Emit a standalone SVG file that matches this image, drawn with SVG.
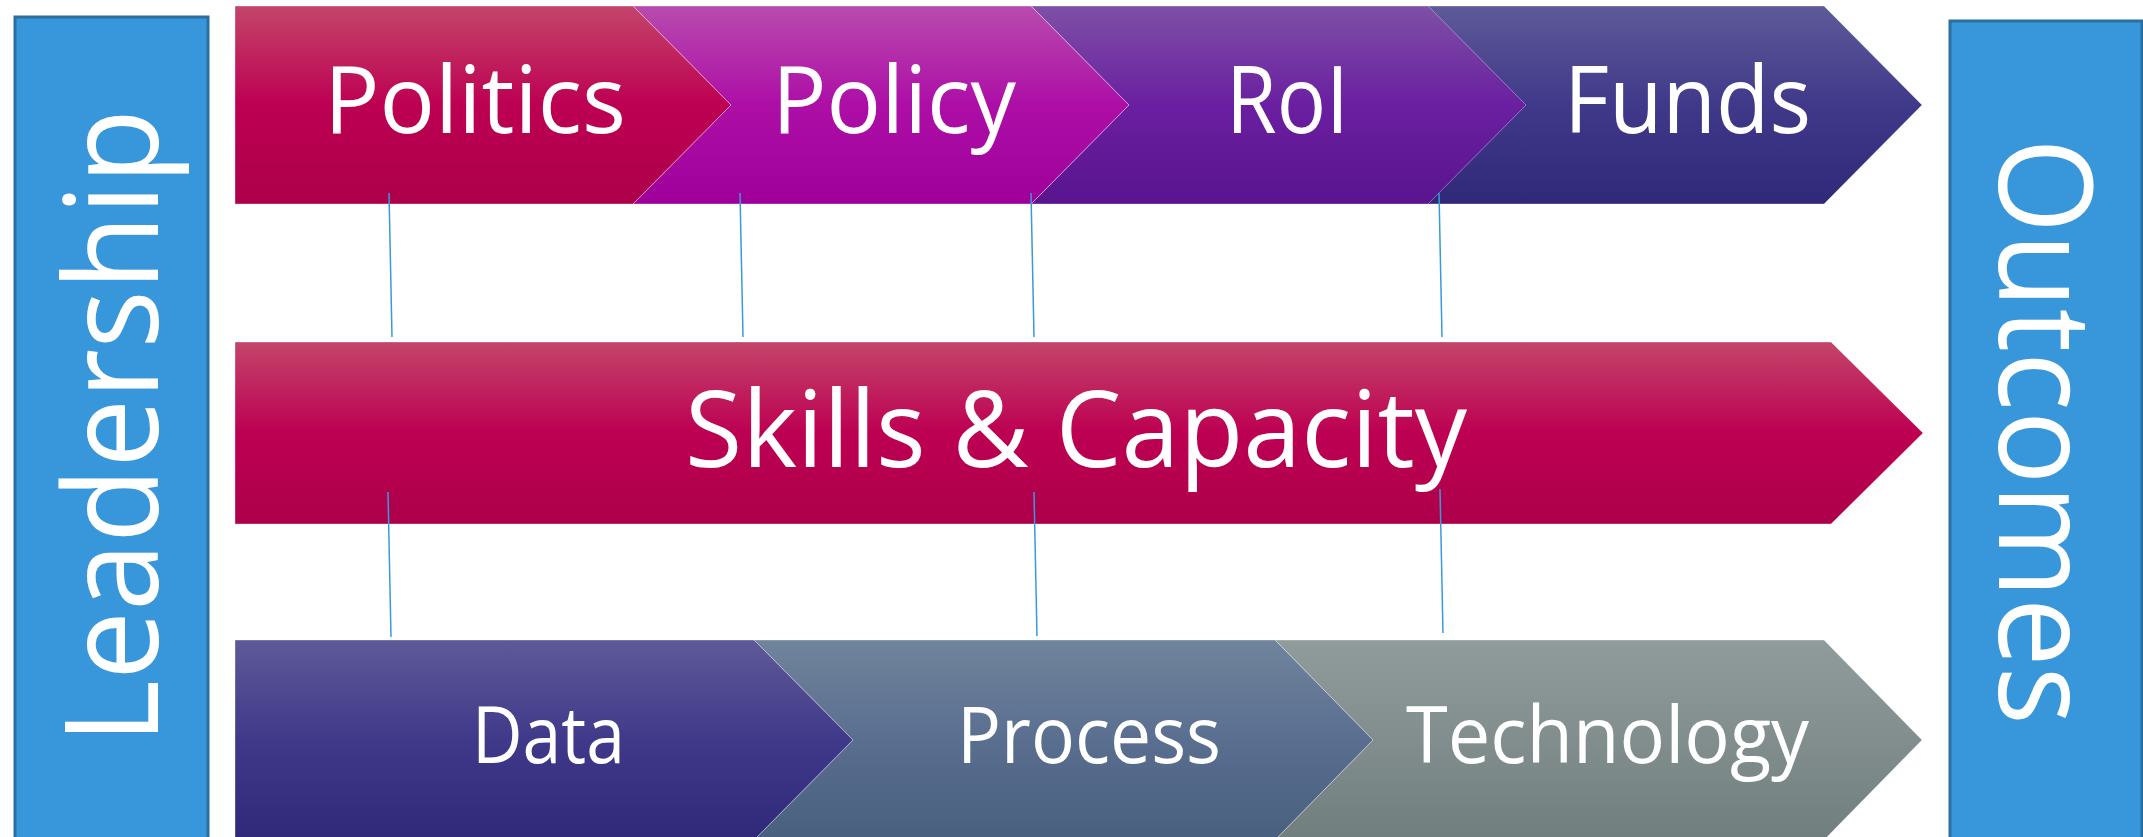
<svg xmlns="http://www.w3.org/2000/svg" width="2143" height="837" viewBox="0 0 2143 837">
<defs>
<linearGradient id="gRed" x1="0" y1="0" x2="0" y2="1"><stop offset="0" stop-color="#c3456a"/><stop offset="0.5" stop-color="#bd0052"/><stop offset="1" stop-color="#ad004a"/></linearGradient>
<linearGradient id="gMag" x1="0" y1="0" x2="0" y2="1"><stop offset="0" stop-color="#b84bae"/><stop offset="0.5" stop-color="#ad0ea6"/><stop offset="1" stop-color="#9f009a"/></linearGradient>
<linearGradient id="gPur" x1="0" y1="0" x2="0" y2="1"><stop offset="0" stop-color="#7e50a6"/><stop offset="0.5" stop-color="#6a1fa0"/><stop offset="1" stop-color="#5a148e"/></linearGradient>
<linearGradient id="gInd" x1="0" y1="0" x2="0" y2="1"><stop offset="0" stop-color="#5e5a98"/><stop offset="0.5" stop-color="#40398a"/><stop offset="1" stop-color="#302878"/></linearGradient>
<linearGradient id="gSlate" x1="0" y1="0" x2="0" y2="1"><stop offset="0" stop-color="#70849c"/><stop offset="0.5" stop-color="#5a6e90"/><stop offset="1" stop-color="#48607e"/></linearGradient>
<linearGradient id="gGrey" x1="0" y1="0" x2="0" y2="1"><stop offset="0" stop-color="#909c9c"/><stop offset="0.5" stop-color="#828e8e"/><stop offset="1" stop-color="#707e7e"/></linearGradient>
</defs>
<style>
.side{fill:#3897db;stroke:#2a6fa0;stroke-width:3}
.chev{stroke:#ffffff;stroke-opacity:0.35;stroke-width:1}
.lbl{font-family:"Open Sans","Noto Sans","DejaVu Sans",sans-serif;fill:#ffffff}
.conn{stroke:#3a9ad9;stroke-width:1.5;fill:none}
</style>
<rect width="2143" height="837" fill="#ffffff"/>

<g id="leadership">
<rect class="side" x="15" y="17" width="193" height="830"/>
<text class="lbl" font-size="130" transform="translate(158,744) rotate(-90)" textLength="635" lengthAdjust="spacingAndGlyphs">Leadership</text>
</g>

<g id="outcomes">
<rect class="side" x="1950" y="21" width="192" height="830"/>
<text class="lbl" font-size="130" transform="translate(1999,138) rotate(90)" textLength="587" lengthAdjust="spacingAndGlyphs">Outcomes</text>
</g>

<g id="funds">
<path class="chev" d="M1427,6 L1824,6 L1922,105 L1824,204 L1427,204 L1525,105 Z" fill="url(#gInd)"/>
<text class="lbl" x="1564" y="133" font-size="93" textLength="247" lengthAdjust="spacingAndGlyphs">Funds</text>
</g>
<g id="roi">
<path class="chev" d="M1031,6 L1428,6 L1526,105 L1428,204 L1031,204 L1129,105 Z" fill="url(#gPur)"/>
<text class="lbl" x="1226" y="133" font-size="93" textLength="123" lengthAdjust="spacingAndGlyphs">RoI</text>
</g>
<g id="policy">
<path class="chev" d="M633,6 L1031,6 L1129,105 L1031,204 L633,204 L731,105 Z" fill="url(#gMag)"/>
<text class="lbl" x="772" y="133" font-size="93" textLength="244" lengthAdjust="spacingAndGlyphs">Policy</text>
</g>
<g id="politics">
<path class="chev" d="M235,6 L633,6 L731,105 L633,204 L235,204 Z" fill="url(#gRed)"/>
<text class="lbl" x="324" y="133" font-size="93" textLength="302" lengthAdjust="spacingAndGlyphs">Politics</text>
</g>

<g id="skills">
<path class="chev" d="M235,342 L1831,342 L1923,433 L1831,524 L235,524 Z" fill="url(#gRed)"/>
<text class="lbl" x="685" y="467" font-size="106" textLength="782" lengthAdjust="spacingAndGlyphs">Skills &amp; Capacity</text>
</g>

<g id="technology">
<path class="chev" d="M1275,640 L1824,640 L1922,740 L1824,840 L1275,840 L1373,740 Z" fill="url(#gGrey)"/>
<text class="lbl" x="1406" y="763" font-size="79" textLength="403" lengthAdjust="spacingAndGlyphs">Technology</text>
</g>
<g id="process">
<path class="chev" d="M754,640 L1275,640 L1373,740 L1275,840 L754,840 L853,740 Z" fill="url(#gSlate)"/>
<text class="lbl" x="957" y="763" font-size="79" textLength="264" lengthAdjust="spacingAndGlyphs">Process</text>
</g>
<g id="data">
<path class="chev" d="M235,640 L754,640 L853,740 L754,840 L235,840 Z" fill="url(#gInd)"/>
<text class="lbl" x="472" y="763" font-size="79" textLength="153" lengthAdjust="spacingAndGlyphs">Data</text>
</g>

<g id="connectors">
<line class="conn" x1="389" y1="193" x2="392" y2="337"/>
<line class="conn" x1="740" y1="193" x2="743" y2="337"/>
<line class="conn" x1="1031" y1="193" x2="1034" y2="337"/>
<line class="conn" x1="1439" y1="193" x2="1442" y2="337"/>
<line class="conn" x1="388" y1="492" x2="391" y2="637"/>
<line class="conn" x1="1034" y1="492" x2="1037" y2="636"/>
<line class="conn" x1="1440" y1="489" x2="1443" y2="633"/>
</g>
</svg>
